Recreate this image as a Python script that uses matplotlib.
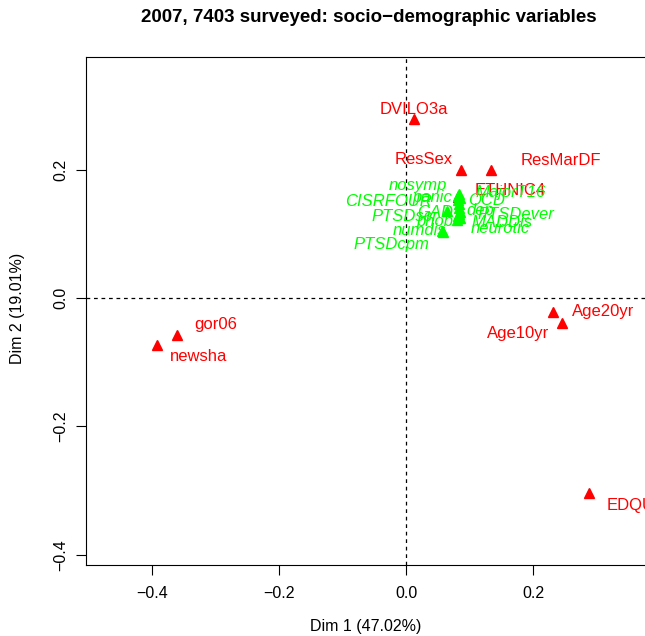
import matplotlib
matplotlib.use("Agg")
import matplotlib.pyplot as plt

plt.rcParams['font.family'] = ['Liberation Sans', 'DejaVu Sans']

# socio-demographic (supplementary, red) categories
red_names = ["DVILO3a", "ResSex", "ResMarDF", "ETHNIC4", "gor06", "newsha",
             "Age20yr", "Age10yr", "EDQUAL"]
red_dim1 = [0.013, 0.087, 0.134, 0.082, -0.361, -0.392, 0.231, 0.246, 0.288]
red_dim2 = [0.279, 0.199, 0.199, 0.157, -0.058, -0.073, -0.022, -0.039, -0.304]
red_off = [(-1, 9), (-38, 11), (70, 10), (52, 7), (39, 11), (41, -12),
           (50, 1), (-44, -10), (52, -12)]

# psychiatric (active, green) categories
green_names = ["nosymp", "panic", "CISRFOUR", "OCD", "MajorT16", "GAD", "dep",
               "PTSDever", "PTSDscr", "phob", "MADDis", "neurotic", "numdis",
               "PTSDcpm"]
green_dim1 = [0.082, 0.082, 0.083, 0.085, 0.083, 0.065, 0.083, 0.085, 0.082,
              0.080, 0.083, 0.085, 0.058, 0.057]
green_dim2 = [0.159, 0.153, 0.146, 0.156, 0.162, 0.136, 0.140, 0.134, 0.128,
              0.121, 0.131, 0.125, 0.103, 0.104]
green_off = [(-40, 10), (-26, 2), (-70, 3), (26, -3), (52, 1), (-12, -2),
             (21, -2), (56, -3), (-53, -1), (-22, -1), (43, -9), (40, -11),
             (-23, 1), (-51, -13)]

xticks = [-0.4, -0.2, 0.0, 0.2]
yticks = [-0.4, -0.2, 0.0, 0.2]

fig = plt.figure(figsize=(6.45, 6.36), dpi=100)
ax = fig.add_axes([86/645, 1-565/636, 1-86/645, (565-57)/636])
ax.set_xlim(-0.504, 0.376)
ax.set_ylim(-0.4159, 0.3754)

ax.axhline(0, color='black', ls=(0, (3, 3)), lw=0.9)
ax.axvline(0, color='black', ls=(0, (3, 3)), lw=0.9)

ax.plot(red_dim1, red_dim2, ls='none', marker='^', ms=7, color='red', mec='red')
for n, x, y, o in zip(red_names, red_dim1, red_dim2, red_off):
    ax.annotate(n, (x, y), xytext=o, textcoords='offset pixels',
                ha='center', va='center', color='red', fontsize=12,
                annotation_clip=False)

ax.plot(green_dim1, green_dim2, ls='none', marker='^', ms=7, color='#00ff00',
        mec='#00ff00')
for n, x, y, o in zip(green_names, green_dim1, green_dim2, green_off):
    ax.annotate(n, (x, y), xytext=o, textcoords='offset pixels',
                ha='center', va='center', color='#00ff00', fontsize=12,
                style='italic', annotation_clip=False)

ax.set_xticks(xticks)
ax.set_yticks(yticks)
ax.set_xticklabels([f"{t:.1f}".replace('-', '\u2212') for t in xticks], fontsize=11.5)
ax.set_yticklabels([f"{t:.1f}".replace('-', '\u2212') for t in yticks], fontsize=11.5,
                   rotation=90, va='center')
ax.tick_params(direction='out', length=7, width=0.8)
ax.tick_params(axis='x', pad=8)
ax.tick_params(axis='y', pad=6)
ax.spines['right'].set_visible(False)
for s in ['left', 'top', 'bottom']:
    ax.spines[s].set_linewidth(0.8)

fig.text(369/645, 1-18/636, "2007, 7403 surveyed: socio\u2212demographic variables",
         ha='center', va='center', fontsize=13.5, fontweight='bold')
fig.text(366/645, 1-627/636, "Dim 1 (47.02%)", ha='center', va='center', fontsize=11.5)
fig.text(18/645, 1-308/636, "Dim 2 (19.01%)", ha='center', va='center', fontsize=11.5,
         rotation=90)

fig.savefig("out.png", dpi=100)
